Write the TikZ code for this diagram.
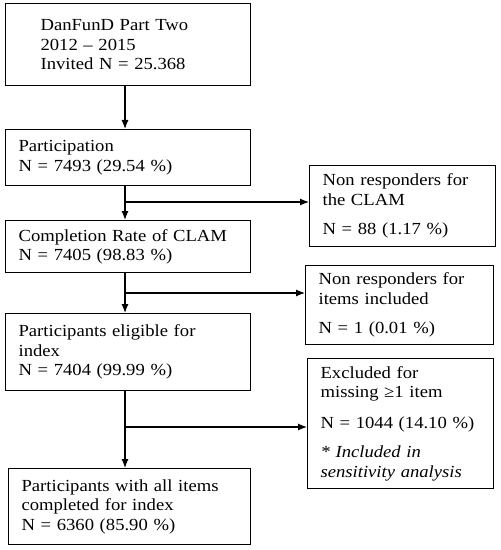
\documentclass[tikz,border=0pt]{standalone}
\usepackage{fontspec}
\setmainfont[FakeStretch=1.1]{Liberation Serif}
\usetikzlibrary{arrows.meta}
\newcommand{\fsz}{\fontsize{17}{19.5}\selectfont}
\begin{document}
\begin{tikzpicture}[x=1bp,y=-1bp,
  box/.style={draw, line width=1.2bp, inner xsep=13bp, inner ysep=0pt, align=left, anchor=north west, font=\fsz},
  arr/.style={line width=1.2bp, -{Latex[length=9bp,width=7bp]}},
  ln/.style={line width=1.2bp}]
\useasboundingbox (0,0) rectangle (501,550);
\node[box, inner xsep=35bp, text width=175bp, minimum height=82bp] (b1) at (5,3)
  {DanFunD Part Two\\2012 -- 2015\\Invited N = 25.368};
\node[box, text width=219bp, minimum height=56bp] (b2) at (5,129)
  {Participation\\N = 7493 (29.54 \%)};
\node[box, text width=219bp, minimum height=52bp] (b3) at (5,220)
  {Completion Rate of CLAM\\N = 7405 (98.83 \%)};
\node[box, text width=219bp, minimum height=77bp] (b4) at (5,313)
  {Participants eligible for\\index\\N = 7404 (99.99 \%)};
\node[box, text width=216bp, minimum height=76bp] (b5) at (8,468)
  {Participants with all items\\completed for index\\N = 6360 (85.90 \%)};
\node[box, text width=160bp, minimum height=81bp] (r1) at (309,165)
  {Non responders for\\the CLAM\\[10bp]N = 88 (1.17 \%)};
\node[box, text width=162bp, minimum height=79bp] (r2) at (305,265)
  {Non responders for\\items included\\[10bp]N = 1 (0.01 \%)};
\node[box, text width=160bp, minimum height=130bp] (r3) at (307,358)
  {Excluded for\\missing ≥1 item\\[11bp]N = 1044 (14.10 \%)\\[10bp]\textit{* Included in}\\\textit{sensitivity analysis}};
\coordinate (sp) at (125,0);
\coordinate (j1) at (125,202);
\coordinate (j2) at (125,293);
\coordinate (j3) at (125,427);
\draw[arr] (b1.south -| sp) -- (b2.north -| sp);
\draw[arr] (b2.south -| sp) -- (b3.north -| sp);
\draw[arr] (b3.south -| sp) -- (b4.north -| sp);
\draw[arr] (b4.south -| sp) -- (b5.north -| sp);
\draw[arr] (j1) -- (r1.west |- j1);
\draw[arr] (j2) -- (r2.west |- j2);
\draw[arr] (j3) -- (r3.west |- j3);
\end{tikzpicture}
\end{document}
